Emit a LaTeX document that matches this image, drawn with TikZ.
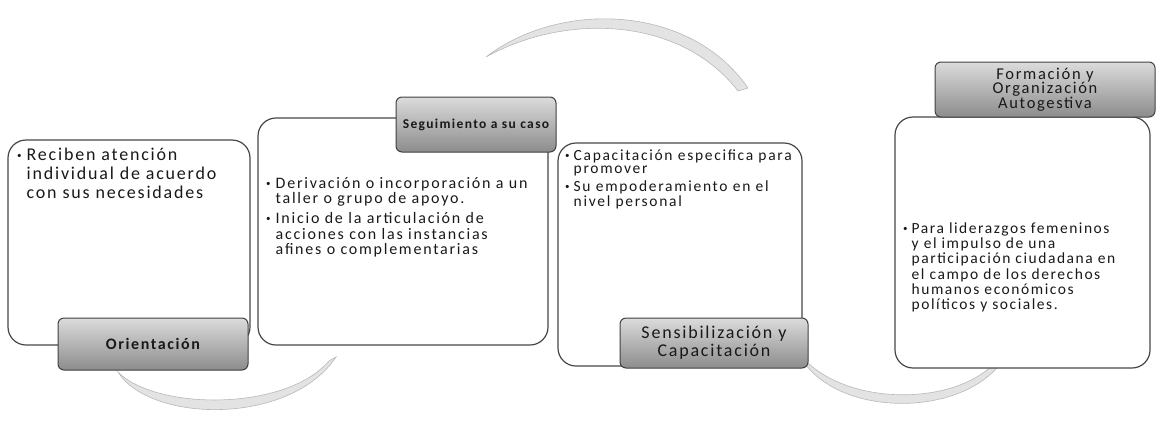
\documentclass[tikz,border=0pt]{standalone}
\usepackage{fontspec}
\setmainfont{Carlito}[LetterSpace=10]
\newcommand\bul{\raisebox{0.25ex}{\fontsize{9}{9}\selectfont •}}
\begin{document}
\begin{tikzpicture}[x=1pt,y=-1pt,
  panel/.style={draw=black!72, line width=1.2pt, rounded corners=18pt, fill=white, inner sep=0pt},
  tag/.style={draw=black!75, line width=1pt, rounded corners=6pt, top color=black!14, bottom color=black!45, inner sep=0pt, align=center, text=black!90},
  body/.style={anchor=north west, inner sep=0pt, text=black!90},
  flow/.style={fill=black!11, draw=black!28, line width=0.6pt}]
\useasboundingbox (0,0) rectangle (1161,421);

% arcs (behind)
\coordinate (a1s) at (118,372);
\coordinate (a1e) at (336,357);
\draw[flow] (a1s) .. controls (150,423) and (290,426) .. (a1e) -- (329,361) .. controls (285,412) and (155,410) .. cycle;
\coordinate (a2s) at (486,57);
\coordinate (a2e) at (748,88);
\draw[flow] (a2s) .. controls (560,0) and (690,4) .. (a2e) -- (738,91) .. controls (680,16) and (565,13) .. cycle;
\coordinate (a3s) at (798,352);
\coordinate (a3e) at (1006,355);
\draw[flow] (a3s) .. controls (830,420) and (970,420) .. (a3e) -- (999,358) .. controls (960,408) and (840,408) .. cycle;

% panels
\node[panel, minimum width=242pt, minimum height=205pt] (b1) at (129,242.5) {};
\node[panel, minimum width=290pt, minimum height=227pt] (b2) at (403,231.5) {};
\node[panel, minimum width=244pt, minimum height=223pt] (b3) at (680,254.5) {};
\node[panel, minimum width=255pt, minimum height=251pt] (b4) at (1022.5,242.5) {};

% tags
\node[tag, minimum width=190pt, minimum height=52pt, font=\fontsize{16}{18}\selectfont\bfseries] (t1) at (153,344) {Orientación};
\node[tag, minimum width=160pt, minimum height=55pt, font=\fontsize{13.5}{15}\selectfont\bfseries] (t2) at (476,124.5) {Seguimiento a su caso};
\node[tag, minimum width=188pt, minimum height=50pt, font=\fontsize{18}{18}\selectfont] (t3) at (714,343) {Sensibilización y\\Capacitación};
\node[tag, minimum width=220pt, minimum height=55pt, font=\fontsize{16.5}{14.5}\selectfont] (t4) at (1045,89.5) {Formación y\\Organización\\Autogestiva};

% body texts
\node[body] (x1) at (17,147) {\fontsize{18}{19}\selectfont
\begin{tabular}{@{}l@{\hspace{5pt}}l@{}}
\bul & Reciben atención\\
  & individual de acuerdo\\
  & con sus necesidades
\end{tabular}};
\node[body] (x2) at (266,177) {\fontsize{16}{15}\selectfont\addfontfeatures{LetterSpace=11}
\begin{tabular}{@{}l@{\hspace{5pt}}l@{}}
\bul & Derivación o incorporación a un\\
  & taller o grupo de apoyo.\\[4pt]
\bul & Inicio de la articulación  de\\
  & acciones con las instancias\\
  & afines o complementarias
\end{tabular}};
\node[body] (x3) at (565,149.5) {\fontsize{15.5}{13.5}\selectfont\addfontfeatures{LetterSpace=11}
\begin{tabular}{@{}l@{\hspace{4pt}}l@{}}
\bul & Capacitación especifica para\\
  & promover\\[2.5pt]
\bul & Su empoderamiento en el\\
  & nivel personal
\end{tabular}};
\node[body] (x4) at (903,222.5) {\fontsize{15.5}{15}\selectfont
\begin{tabular}{@{}l@{\hspace{4pt}}l@{}}
\bul & Para liderazgos femeninos\\
  & y el impulso de una\\
  & participación ciudadana en\\
  & el campo de los derechos\\
  & humanos económicos\\
  & políticos y sociales.
\end{tabular}};
\end{tikzpicture}
\end{document}
